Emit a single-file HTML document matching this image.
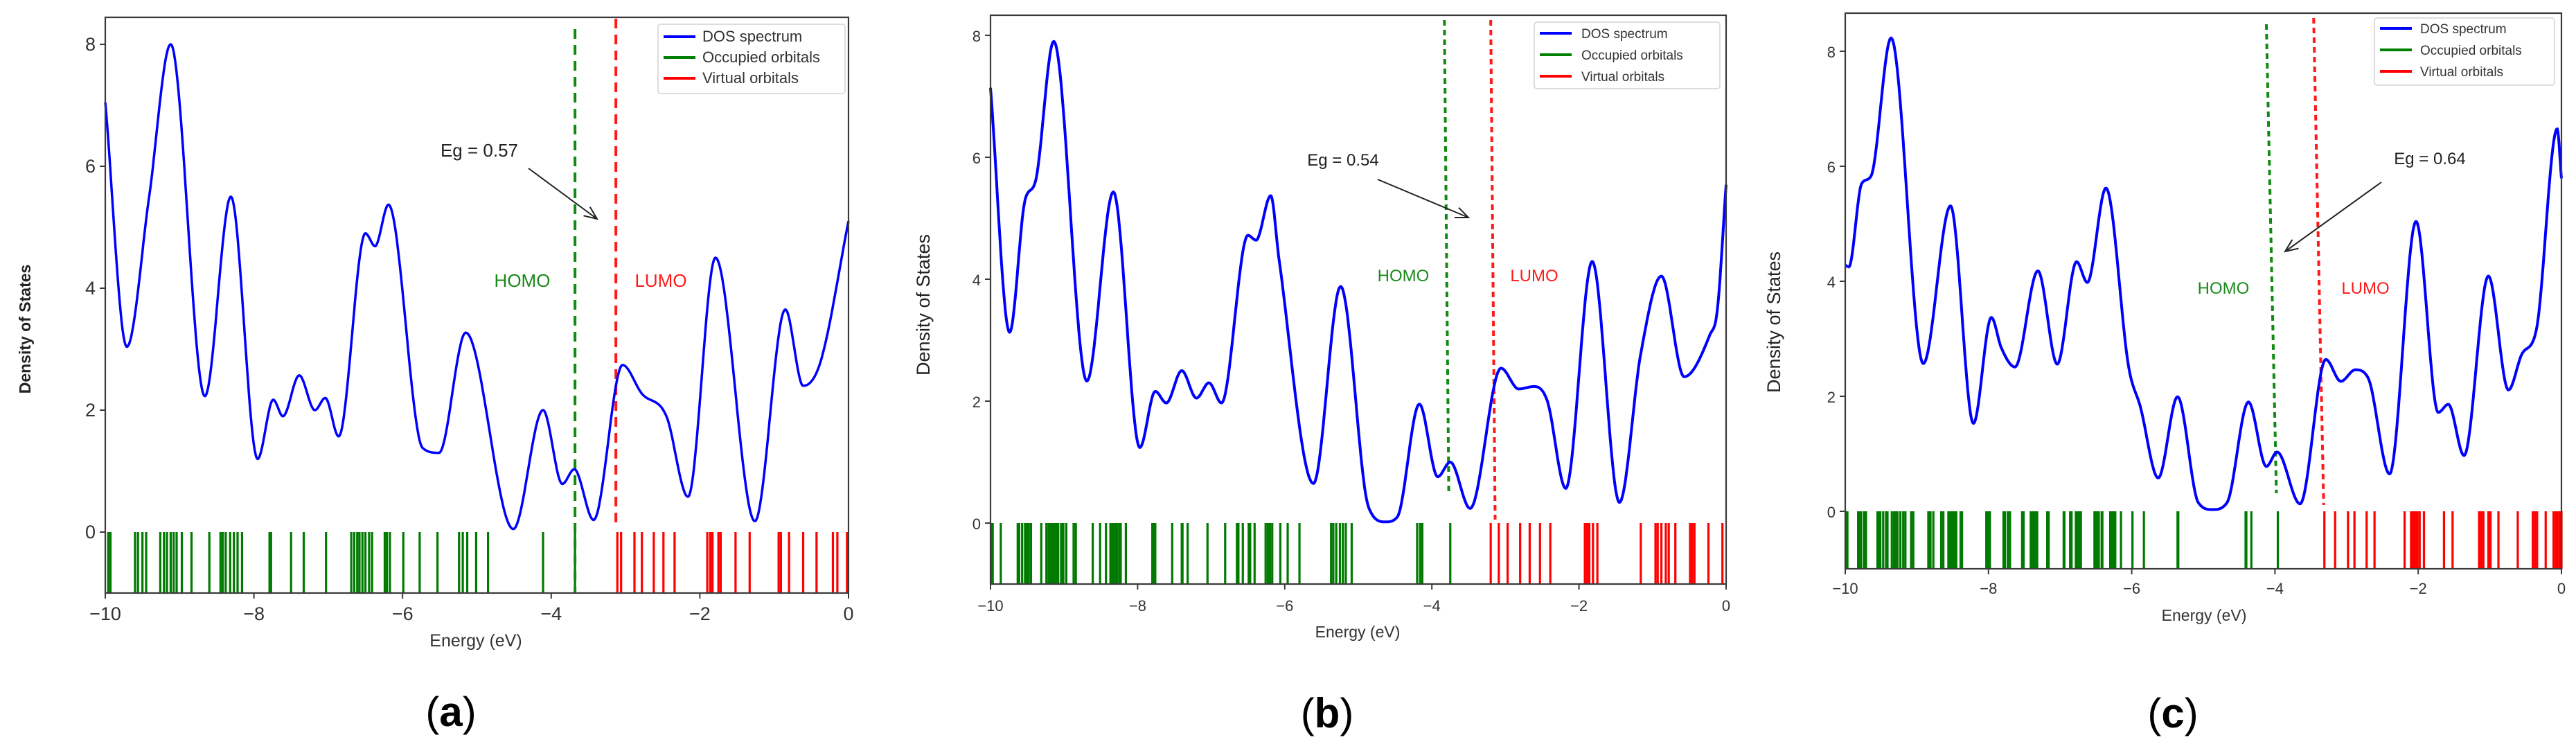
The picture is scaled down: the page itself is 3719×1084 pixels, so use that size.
<!DOCTYPE html>
<html><head><meta charset="utf-8">
<style>
html,body{margin:0;padding:0;background:#fff;}
svg{display:block;}
text{font-family:"Liberation Sans",sans-serif;}
</style></head>
<body>
<svg id="fig" width="3719" height="1084" viewBox="0 0 3719 1084" xmlns="http://www.w3.org/2000/svg"></svg>
<script>
// ---------- Panel (a) data ----------
const aEnergy = [-10,-9.71,-9.41,-9.12,-8.66,-8.31,-7.95,-7.74,-7.61,-7.39,-7.18,-7.04,-6.86,-6.50,-6.37,-6.19,-5.73,-5.51,-5.15,-4.51,-4.11,-3.85,-3.69,-3.43,-3.04,-2.78,-2.45,-2.16,-1.79,-1.26,-0.85,-0.61,-0.38,0];
const aDos    = [7.05,3.04,5.5,8.0,2.23,5.5,1.2,2.17,1.9,2.57,2.0,2.2,1.57,4.9,4.69,5.37,1.38,1.3,3.27,0.05,2.0,0.79,1.03,0.2,2.74,2.27,1.9,0.58,4.5,0.18,3.65,2.4,2.78,5.1];
const aOccupied = [-9.96,-9.93,-9.60,-9.56,-9.50,-9.45,-9.26,-9.21,-9.17,-9.12,-9.08,-9.04,-8.97,-8.84,-8.60,-8.45,-8.42,-8.38,-8.32,-8.27,-8.22,-8.16,-7.79,-7.77,-7.50,-7.33,-7.03,-6.69,-6.65,-6.61,-6.58,-6.54,-6.50,-6.45,-6.41,-6.24,-6.21,-6.17,-5.99,-5.77,-5.53,-5.24,-5.19,-5.13,-5.01,-4.85,-4.11,-3.68];
const aVirtual = [-3.11,-3.06,-2.88,-2.78,-2.62,-2.49,-2.34,-1.90,-1.86,-1.83,-1.75,-1.72,-1.52,-1.33,-0.94,-0.91,-0.80,-0.61,-0.43,-0.21,-0.15,-0.02];
const aHomoLumo = [-3.68,-3.13];
const aGap = ["Eg = 0.57"];

// ---------- Panel (b) data ----------
const bEnergy = [-10,-9.74,-9.53,-9.39,-9.14,-8.69,-8.33,-7.97,-7.76,-7.61,-7.40,-7.20,-7.03,-6.86,-6.50,-6.39,-6.19,-6.08,-5.61,-5.24,-4.86,-4.63,-4.47,-4.17,-3.92,-3.75,-3.48,-3.06,-2.82,-2.61,-2.43,-2.18,-1.82,-1.45,-1.16,-0.88,-0.57,-0.22,-0.12,0];
const bDos    = [7.14,3.13,5.3,5.6,7.9,2.33,5.43,1.24,2.16,1.97,2.5,2.05,2.3,1.97,4.72,4.64,5.37,4.35,0.65,3.88,0.26,0.02,0.1,1.95,0.76,1.0,0.24,2.54,2.2,2.24,2.0,0.57,4.29,0.34,2.78,4.05,2.4,3.09,3.49,5.55];
const bOccupied = [-9.99,-9.97,-9.86,-9.63,-9.61,-9.57,-9.53,-9.50,-9.48,-9.45,-9.31,-9.24,-9.21,-9.19,-9.17,-9.15,-9.13,-9.11,-9.10,-9.08,-9.04,-9.01,-8.97,-8.87,-8.84,-8.61,-8.51,-8.43,-8.37,-8.35,-8.33,-8.30,-8.28,-8.25,-8.23,-8.16,-7.80,-7.78,-7.76,-7.53,-7.40,-7.39,-7.32,-7.05,-6.81,-6.65,-6.63,-6.57,-6.49,-6.47,-6.41,-6.26,-6.23,-6.20,-6.17,-6.06,-5.96,-5.80,-5.37,-5.34,-5.30,-5.25,-5.21,-5.17,-5.09,-4.20,-4.16,-4.13,-3.75];
const bVirtual = [-3.20,-3.09,-2.97,-2.80,-2.67,-2.53,-2.39,-1.92,-1.89,-1.86,-1.81,-1.75,-1.16,-0.96,-0.93,-0.88,-0.82,-0.78,-0.69,-0.49,-0.46,-0.43,-0.24,-0.05];
const bHomoLumo = [-3.80,-3.17];
const bGap = ["Eg = 0.54"];

// ---------- Panel (c) data ----------
const cEnergy = [-10,-9.95,-9.77,-9.64,-9.36,-8.91,-8.53,-8.21,-7.96,-7.82,-7.63,-7.31,-7.04,-6.77,-6.62,-6.36,-6.04,-5.88,-5.63,-5.36,-5.07,-4.87,-4.67,-4.37,-4.12,-3.97,-3.65,-3.29,-3.08,-2.88,-2.70,-2.40,-2.03,-1.72,-1.58,-1.36,-1.02,-0.74,-0.55,-0.35,-0.06,0];
const cDos    = [4.28,4.25,5.7,5.83,8.23,2.57,5.31,1.53,3.37,2.84,2.51,4.18,2.56,4.34,3.98,5.62,2.49,1.82,0.58,1.99,0.15,0.03,0.15,1.9,0.78,1.03,0.13,2.64,2.26,2.46,2.32,0.65,5.04,1.72,1.86,0.97,4.09,2.11,2.74,3.16,6.65,5.79];
const cOccupied = [-9.99,-9.97,-9.82,-9.80,-9.78,-9.74,-9.71,-9.55,-9.53,-9.51,-9.47,-9.43,-9.41,-9.35,-9.32,-9.30,-9.27,-9.23,-9.19,-9.16,-9.08,-9.05,-8.84,-8.81,-8.77,-8.66,-8.63,-8.56,-8.55,-8.53,-8.51,-8.50,-8.48,-8.47,-8.45,-8.39,-8.37,-8.03,-8.02,-8.00,-7.98,-7.79,-7.77,-7.73,-7.70,-7.53,-7.51,-7.41,-7.39,-7.36,-7.34,-7.32,-7.18,-7.16,-6.95,-6.94,-6.86,-6.84,-6.78,-6.76,-6.75,-6.73,-6.71,-6.52,-6.50,-6.49,-6.47,-6.46,-6.42,-6.41,-6.30,-6.28,-6.26,-6.25,-6.23,-6.15,-5.99,-5.83,-5.36,-5.35,-4.41,-4.40,-4.33,-3.96];
const cVirtual = [-3.31,-3.16,-2.98,-2.89,-2.72,-2.61,-2.19,-2.10,-2.08,-2.06,-2.03,-2.01,-1.98,-1.92,-1.64,-1.52,-1.15,-1.12,-1.09,-1.02,-0.99,-0.88,-0.61,-0.40,-0.37,-0.34,-0.22,-0.11,-0.08,-0.06,-0.03,-0.01,0];
const cHomoLumo = [-4.05,-3.39];
const cGap = ["Eg = 0.64"];

const xTicks = [-10,-8,-6,-4,-2,0];
const yTicks = [0,2,4,6,8];
const legendLabels = ["DOS spectrum","Occupied orbitals","Virtual orbitals"];

const NS = "http://www.w3.org/2000/svg";
const svg = document.getElementById('fig');
function mk(tag, attrs, parent, txt){
  const e = document.createElementNS(NS, tag);
  for (const k in attrs) e.setAttribute(k, attrs[k]);
  if (txt !== undefined) e.textContent = txt;
  (parent || svg).appendChild(e);
  return e;
}
// monotone cubic interpolation
function monotone(xs, ys){
  const n = xs.length, d = [], m = [];
  for (let i=0;i<n-1;i++) d.push((ys[i+1]-ys[i])/(xs[i+1]-xs[i]));
  m.push(d[0]);
  for (let i=1;i<n-1;i++){ m.push(d[i-1]*d[i] <= 0 ? 0 : (d[i-1]+d[i])/2); }
  m.push(d[n-2]);
  for (let i=0;i<n-1;i++){
    if (d[i]===0){ m[i]=0; m[i+1]=0; continue; }
    const a=m[i]/d[i], b=m[i+1]/d[i], s=a*a+b*b;
    if (s>9){ const t=3/Math.sqrt(s); m[i]=t*a*d[i]; m[i+1]=t*b*d[i]; }
  }
  return function(x){
    let i=0; while(i<n-2 && x>xs[i+1]) i++;
    const h=xs[i+1]-xs[i], t=(x-xs[i])/h, t2=t*t, t3=t2*t;
    return (2*t3-3*t2+1)*ys[i]+(t3-2*t2+t)*h*m[i]+(-2*t3+3*t2)*ys[i+1]+(t3-t2)*h*m[i+1];
  };
}

function drawPanel(P, energy, dos, occ, vir, hl, gap){
  const g = mk('g', {});
  
  
  const X = e => P.left + (e - (-10)) / 10 * (P.right - P.left);
  const Y = v => P.y0 - v * P.unit;
  const top = P.top, bottom = Y(-1);
  const dark = '#3a3a3a';

  // sticks
  const sg = mk('g', {}, g);
  
  
  occ.forEach(e => {
    const l = mk('line', {x1:X(e), x2:X(e), y1:Y(0), y2:bottom, stroke:'#007a00', 'stroke-width':3.2}, sg);
    
    
  });
  const vg = mk('g', {}, g);
  
  
  vir.forEach(e => {
    const l = mk('line', {x1:X(e), x2:X(e), y1:Y(0), y2:bottom, stroke:'#ff0000', 'stroke-width':3.2}, vg);
    
    
  });

  // HOMO / LUMO lines
  const dash = P.dash;
  const hd = P.slant || 0;
  const hline = mk('line', {x1:X(hl[0]-hd), y1:P.homoTop, x2:X(hl[0]+hd), y2:P.homoBot, stroke:'#118a11', 'stroke-width':4, 'stroke-dasharray':dash}, g);
  
  
  const lline = mk('line', {x1:X(hl[1]-hd), y1:P.lumoTop, x2:X(hl[1]+hd), y2:P.lumoBot, stroke:'#ff1a1a', 'stroke-width':4, 'stroke-dasharray':dash}, g);
  
  

  // curve
  const f = monotone(energy, dos);
  let d = '';
  for (let k=0;k<=1200;k++){
    const e = -10 + k/1200*10;
    d += (k? 'L':'M') + X(e).toFixed(1) + ',' + Y(f(e)).toFixed(1);
  }
  const path = mk('path', {d:d, fill:'none', stroke:'#0000ff', 'stroke-width':P.lw}, g);
  
  

  // frame
  const frame = mk('rect', {x:P.left, y:top, width:P.right-P.left, height:bottom-top, fill:'none', stroke:dark, 'stroke-width':2.2}, g);
  
  

  // ticks
  xTicks.forEach(t => {
    mk('line', {x1:X(t), x2:X(t), y1:bottom, y2:bottom+8, stroke:dark, 'stroke-width':2}, g);
    const tl = mk('text', {x:X(t), y:P.xTickY, 'text-anchor':'middle', 'font-size':P.tickFs, fill:'#333', 'font-family':P.tickFont}, g, (t<0? '\u2212'+(-t): ''+t));
    
    
  });
  yTicks.forEach(t => {
    mk('line', {x1:P.left-8, x2:P.left, y1:Y(t), y2:Y(t), stroke:dark, 'stroke-width':2}, g);
    const tl = mk('text', {x:P.left-14, y:Y(t)+9, 'text-anchor':'end', 'font-size':P.tickFs, fill:'#333', 'font-family':P.tickFont}, g, ''+t);
    
    
  });

  // axis labels
  const xl = mk('text', {x:P.xLabelX, y:P.xLabelY, 'text-anchor':'middle', 'font-size':P.labelFs, fill:'#333', 'font-family':P.tickFont}, g, 'Energy (eV)');
  
  
  const yl = mk('text', {x:0, y:0, 'text-anchor':'middle', 'font-size':P.yLabelFs, 'font-weight':P.yLabelWeight, fill:'#222', 'font-family':P.yLabelFont, transform:'translate('+P.yLabelX+','+P.yLabelY+') rotate(-90)'}, g, 'Density of States');
  
  

  // annotations
  const eg = mk('text', {x:P.egX, y:P.egY, 'text-anchor':'middle', 'font-size':P.annFs, fill:'#222', 'font-family':P.annFont}, g, gap[0]);
  
  
  const ar = mk('line', {x1:P.arrow[0], y1:P.arrow[1], x2:P.arrow[2], y2:P.arrow[3], stroke:'#222', 'stroke-width':2}, g);
  
  
  const ang = Math.atan2(P.arrow[3]-P.arrow[1], P.arrow[2]-P.arrow[0]);
  const hx = P.arrow[2], hy = P.arrow[3], L = 20;
  const head = mk('path', {d:'M'+(hx-L*Math.cos(ang-0.4))+','+(hy-L*Math.sin(ang-0.4))+'L'+hx+','+hy+'L'+(hx-L*Math.cos(ang+0.4))+','+(hy-L*Math.sin(ang+0.4)), fill:'none', stroke:'#222', 'stroke-width':2}, g);
  
  
  const ht = mk('text', {x:P.homoX, y:P.hlY, 'text-anchor':'middle', 'font-size':P.annFs, fill:'#1a8a1a', 'font-family':P.annFont}, g, 'HOMO');
  
  
  const lt = mk('text', {x:P.lumoX, y:P.hlY, 'text-anchor':'middle', 'font-size':P.annFs, fill:'#ff1a1a', 'font-family':P.annFont}, g, 'LUMO');
  
  

  // legend
  const lg = mk('g', {}, g);
  
  
  const L0 = P.legend;
  mk('rect', {x:L0.x, y:L0.y, width:L0.w, height:L0.h, rx:4, fill:'#fff', stroke:'#ddd', 'stroke-width':2}, lg);
  const cols = ['#0000ff','#008000','#ff0000'];
  legendLabels.forEach((s,i) => {
    const yy = L0.y + L0.first + i*L0.step;
    const ln = mk('line', {x1:L0.x+8, x2:L0.x+8+L0.lineW, y1:yy, y2:yy, stroke:cols[i], 'stroke-width':4}, lg);
    
    
    const tx = mk('text', {x:L0.x+L0.textX, y:yy+7, 'font-size':L0.fs, fill:'#333', 'font-family':P.legendFont}, lg, s);
    
    
  });

  // caption
  const cap = mk('text', {x:P.capX, y:P.capY, 'text-anchor':'middle', 'font-size':60, fill:'#000', 'font-family':'"Liberation Serif", serif'}, g);
  
  
  mk('tspan', {}, cap, '(');
  mk('tspan', {'font-weight':'bold'}, cap, P.id);
  mk('tspan', {}, cap, ')');
}

const narrow = '"Liberation Sans Narrow","Liberation Sans",sans-serif';
const wide = '"DejaVu Sans","Liberation Sans",sans-serif';

drawPanel({id:'a', left:152, right:1225, y0:768, unit:88, top:25, lw:3.5, dash:'14 9',
  homoTop:42, homoBot:856, lumoTop:27, lumoBot:762,
  tickFont:narrow, tickFs:27, xTickY:895, labelFs:25, xLabelX:687, xLabelY:933,
  yLabelFont:wide, yLabelFs:23, yLabelWeight:'bold', yLabelX:44, yLabelY:475,
  annFont:narrow, annFs:26, egX:692, egY:226, arrow:[763,243,862,316], homoX:754, lumoX:954, hlY:414,
  legendFont:narrow, legend:{x:950,y:35,w:270,h:100,first:18,step:30,lineW:46,textX:64,fs:22},
  capX:651, capY:1048}, aEnergy, aDos, aOccupied, aVirtual, aHomoLumo, aGap);

drawPanel({id:'b', left:1430, right:2492, y0:755, unit:88, top:22, lw:4, dash:'8 6', slant:0.03,
  homoTop:29, homoBot:712, lumoTop:29, lumoBot:750,
  tickFont:wide, tickFs:22, xTickY:882, labelFs:23, xLabelX:1960, xLabelY:920,
  yLabelFont:narrow, yLabelFs:27, yLabelWeight:'normal', yLabelX:1342, yLabelY:440,
  annFont:wide, annFs:24, egX:1939, egY:239, arrow:[1989,259,2120,314], homoX:2026, lumoX:2215, hlY:406,
  legendFont:wide, legend:{x:2215,y:32,w:268,h:96,first:16,step:31,lineW:46,textX:68,fs:19},
  capX:1916, capY:1050}, bEnergy, bDos, bOccupied, bVirtual, bHomoLumo, bGap);

drawPanel({id:'c', left:2664, right:3698, y0:738, unit:83, top:19, lw:4, dash:'8 6', slant:0.07,
  homoTop:35, homoBot:712, lumoTop:26, lumoBot:729,
  tickFont:wide, tickFs:22, xTickY:857, labelFs:23, xLabelX:3182, xLabelY:896,
  yLabelFont:narrow, yLabelFs:27, yLabelWeight:'normal', yLabelX:2570, yLabelY:465,
  annFont:wide, annFs:24, egX:3508, egY:237, arrow:[3438,263,3299,363], homoX:3210, lumoX:3415, hlY:424,
  legendFont:wide, legend:{x:3428,y:26,w:260,h:97,first:15,step:31,lineW:46,textX:66,fs:19},
  capX:3137, capY:1050}, cEnergy, cDos, cOccupied, cVirtual, cHomoLumo, cGap);
</script>
</body></html>
